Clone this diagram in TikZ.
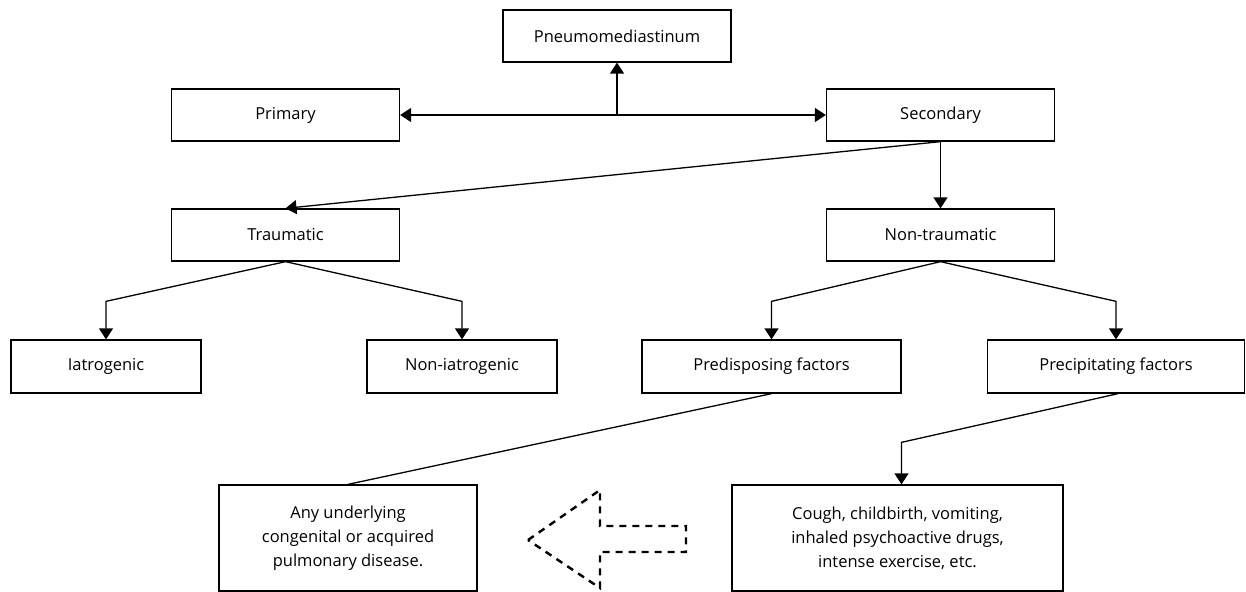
\documentclass[tikz,border=0pt]{standalone}
\usepackage{fontspec}
\setmainfont{Open Sans}
\usetikzlibrary{arrows.meta,calc}
\begin{document}
\begin{tikzpicture}[x=1pt,y=-1pt,
  box/.style={draw=black,line width=1.3pt,rectangle,inner sep=0pt,align=center,
    font=\fontsize{16.5}{24}\selectfont},
  arr/.style={line width=1.3pt,-{Triangle[length=11pt,width=14pt]}},
  link/.style={line width=1.3pt},
  bigarrow/.style={line width=2.4pt,dash pattern=on 7pt off 6pt}]
\path[use as bounding box] (0,0) rectangle (1246,591);
% row 1
\node[box,minimum width=228pt,minimum height=52pt] (pneumo) at (617,36) {Pneumomediastinum};
% row 2
\node[box,minimum width=228pt,minimum height=52pt] (primary) at (285.5,115) {Primary};
\node[box,minimum width=228pt,minimum height=52pt] (secondary) at (940.5,115) {Secondary};
% row 3
\node[box,minimum width=228pt,minimum height=52pt] (traumatic) at (285.5,235) {Traumatic};
\node[box,minimum width=228pt,minimum height=52pt] (nontraumatic) at (940.5,235) {Non-traumatic};
% row 4
\node[box,minimum width=190pt,minimum height=53pt] (iatro) at (106,366.5) {Iatrogenic};
\node[box,minimum width=190pt,minimum height=53pt] (noniatro) at (462,366.5) {Non-iatrogenic};
\node[box,minimum width=259pt,minimum height=53pt] (predis) at (771.5,366.5) {Predisposing factors};
\node[box,minimum width=257pt,minimum height=53pt] (precip) at (1116,366.5) {Precipitating factors};
% row 5
\node[box,minimum width=258pt,minimum height=106pt] (anyund) at (348,538) {\raisebox{-3pt}{\parbox{250pt}{\centering Any underlying\\congenital or acquired\\pulmonary disease.}}};
\node[box,minimum width=331pt,minimum height=106pt] (cough) at (897.5,538) {\raisebox{-3pt}{\parbox{320pt}{\centering Cough, childbirth, vomiting,\\inhaled psychoactive drugs,\\intense exercise, etc.}}};
% connectors
\coordinate (junc) at (pneumo.south |- primary.east);
\draw[arr] (junc) -- (pneumo.south);
\draw[line width=1.3pt,{Triangle[length=11pt,width=14pt]}-{Triangle[length=11pt,width=14pt]}] (primary.east) -- (secondary.west);
\draw[arr] (secondary.south) -- (traumatic.north);
\draw[arr] (secondary.south) -- (nontraumatic.north);
\coordinate (e1) at ($(iatro.north)+(0,-38)$);
\coordinate (e2) at ($(noniatro.north)+(0,-38)$);
\coordinate (e3) at ($(predis.north)+(0,-38)$);
\coordinate (e4) at ($(precip.north)+(0,-38)$);
\draw[arr] (traumatic.south) -- (e1) -- (iatro.north);
\draw[arr] (traumatic.south) -- (e2) -- (noniatro.north);
\draw[arr] (nontraumatic.south) -- (e3) -- (predis.north);
\draw[arr] (nontraumatic.south) -- (e4) -- (precip.north);
\draw[link] (predis.south) -- (anyund.north);
\coordinate (e5) at ($(cough.north)+(4,-42)$);
\coordinate (e6) at ($(cough.north)+(4,0)$);
\draw[arr] ($(precip.south)+(2,0)$) -- (e5) -- (e6);
% dashed block arrow
\draw[bigarrow] (528,540) -- (600,490) -- (600,526) -- (686,526) -- (686,552) -- (600,552) -- (600,588) -- cycle;
\end{tikzpicture}
\end{document}
